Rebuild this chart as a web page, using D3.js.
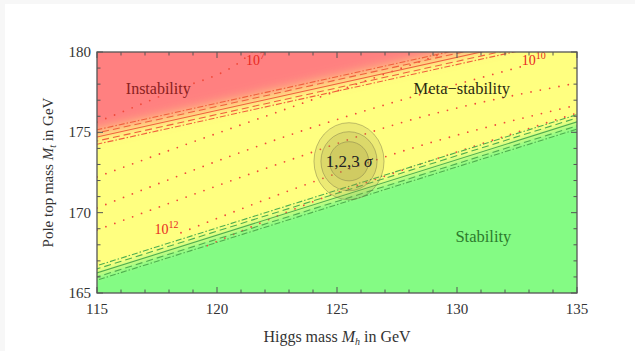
<!DOCTYPE html>
<html>
<head>
<meta charset="utf-8">
<script src="https://cdn.jsdelivr.net/npm/d3@7.9.0/dist/d3.min.js"></script>
<style>
  html, body { margin: 0; padding: 0; background: #f7f7f7; }
  svg { display: block; }
  text { font-family: "Liberation Serif", "DejaVu Serif", serif; }
</style>
</head>
<body>
<svg id="chart" width="635" height="351"></svg>
<script>
// axis ranges and ticks
const xDomain = [115, 135];
const yDomain = [165, 180];
const xTicks = [115, 120, 125, 130, 135];
const yTicks = [165, 170, 175, 180];

// boundary lines [Mh, Mt] (solid = central value)
const instabilityLine = [[115, 174.71], [131.0, 180]];
const stabilityLine = [[115, 166.25], [135, 175.65]];
// uncertainty offsets in Mt, with dash style
const bandOffsets = [
  { dy: 0.45, dash: '6,2,1.5,2' },
  { dy: 0.25, dash: '7,4' },
  { dy: 0, dash: null },
  { dy: -0.25, dash: '7,4' },
  { dy: -0.45, dash: '6,2,1.5,2' },
];

// instability scale contours (dotted), [Mh, Mt] points
const contour7 = [[115, 175.64], [118.04, 177.51], [121.17, 179.63], [121.46, 180]];
const contour8 = [[115, 172.22], [116.92, 173.28], [125.13, 177.64], [129.58, 180]];
const contour10 = [[115, 170.29], [123.04, 174.84], [132.7, 179.1]];
const contour11 = [[115, 168.92], [123.04, 173.28], [127.63, 175.58], [135, 178.07]];
const contour12 = [[118.5, 168.75], [123.88, 171.85], [127.63, 173.78], [135, 176.7]];
const contour13 = [[119.6, 167.95], [124.83, 171.15], [127.63, 172.6], [135, 176.2]];
const contours = [contour7, contour8, contour10, contour11, contour12, contour13];
const contourLabels = [
  { exp: '7', at: [121.6, 179.2] },
  { exp: '10', at: [133.2, 179.2] },
  { exp: '12', at: [117.9, 168.7] },
];

// measured point: Mh, Mt and 1,2,3 sigma half-widths
const center = [125.5, 173.2];
const sigmaX = [0.82, 1.17, 1.46];
const sigmaY = [1.22, 1.84, 2.4];

const regionLabels = [
  { text: 'Instability', at: [116.2, 177.4], color: '#8a2020', size: 16 },
  { text: 'Meta\u2212stability', at: [130.2, 177.4], color: '#2a2a10', size: 16.5 },
  { text: 'Stability', at: [131.1, 168.2], color: '#2c7a2c', size: 16.5 },
];

const width = 635, height = 351;
const margin = { top: 52, right: 58, bottom: 58, left: 97 };
const svg = d3.select('#chart');

svg.append('rect')
  .attr('x', 5).attr('y', 4)
  .attr('width', width - 5).attr('height', height - 4)
  .attr('fill', '#fff');

const xScale = d3.scaleLinear().domain(xDomain).range([margin.left, width - margin.right]);
const yScale = d3.scaleLinear().domain(yDomain).range([height - margin.bottom, margin.top]);

const defs = svg.append('defs');
defs.append('clipPath').attr('id', 'plotclip')
  .append('rect')
  .attr('x', xScale(115)).attr('y', yScale(180))
  .attr('width', xScale(135) - xScale(115))
  .attr('height', yScale(165) - yScale(180));
defs.append('filter').attr('id', 'blur')
  .attr('x', '-20%').attr('y', '-20%').attr('width', '140%').attr('height', '140%')
  .append('feGaussianBlur').attr('stdDeviation', 4);
defs.append('filter').attr('id', 'blurWide')
  .attr('x', '-20%').attr('y', '-20%').attr('width', '140%').attr('height', '140%')
  .append('feGaussianBlur').attr('stdDeviation', 7);

// line through two points, extended across the whole x range
function extend(seg, dy = 0) {
  const [[x0, y0], [x1, y1]] = seg;
  const m = (y1 - y0) / (x1 - x0);
  return [[100, y0 + m * (100 - x0) + dy], [150, y0 + m * (150 - x0) + dy]];
}

const plot = svg.append('g').attr('clip-path', 'url(#plotclip)');
const bg = plot.append('g').attr('filter', 'url(#blur)');

const line = d3.line().x(d => xScale(d[0])).y(d => yScale(d[1]));
const smooth = d3.line().x(d => xScale(d[0])).y(d => yScale(d[1])).curve(d3.curveMonotoneX);
const inst = extend(instabilityLine, 0.25);
const stab = extend(stabilityLine);

bg.append('rect')
  .attr('x', xScale(110)).attr('y', yScale(190))
  .attr('width', xScale(140) - xScale(110))
  .attr('height', yScale(160) - yScale(190))
  .attr('fill', '#ffff80');
bg.append('path')
  .attr('d', line([stab[0], stab[1], [150, 150], [100, 150]]) + 'Z')
  .attr('fill', '#84fb84');
plot.append('path')
  .attr('filter', 'url(#blurWide)')
  .attr('d', line([inst[0], inst[1], [150, 200], [100, 200]]) + 'Z')
  .attr('fill', '#ff8080');

// dotted contours
plot.append('g').selectAll('path')
  .data(contours)
  .join('path')
  .attr('d', d => smooth(d))
  .attr('fill', 'none')
  .attr('stroke', '#f04a3a')
  .attr('stroke-width', 1.8)
  .attr('stroke-linecap', 'round')
  .attr('stroke-dasharray', '0,9.5');

// uncertainty bands
[[instabilityLine, '#f0603c'], [stabilityLine, '#4fae4f']].forEach(([seg, col]) => {
  plot.append('g').selectAll('path')
    .data(bandOffsets)
    .join('path')
    .attr('d', o => line(extend(seg, o.dy)))
    .attr('fill', 'none')
    .attr('stroke', col)
    .attr('stroke-width', 1.1)
    .attr('stroke-dasharray', o => o.dash);
});

// sigma ellipses
const ell = plot.append('g');
[2, 1, 0].forEach(i => {
  ell.append('ellipse')
    .attr('cx', xScale(center[0])).attr('cy', yScale(center[1]))
    .attr('rx', xScale(xDomain[0] + sigmaX[i]) - xScale(xDomain[0]))
    .attr('ry', yScale(yDomain[0]) - yScale(yDomain[0] + sigmaY[i]))
    .attr('fill', 'rgba(160,150,70,0.2)')
    .attr('stroke', 'rgba(120,115,70,0.45)')
    .attr('stroke-width', 1);
});

const sigmaText = plot.append('text')
  .attr('x', xScale(center[0]))
  .attr('y', yScale(center[1]) + 6)
  .attr('text-anchor', 'middle')
  .attr('font-size', 17)
  .attr('fill', '#222');
sigmaText.append('tspan').text('1,2,3 ');
sigmaText.append('tspan').attr('font-style', 'italic').text('\u03c3');

// contour labels
contourLabels.forEach(l => {
  const t = plot.append('text')
    .attr('x', xScale(l.at[0])).attr('y', yScale(l.at[1]))
    .attr('text-anchor', 'middle')
    .attr('font-size', 14)
    .attr('fill', '#e8281e');
  t.append('tspan').text('10');
  t.append('tspan').attr('font-size', 10).attr('dy', -6).text(l.exp);
});

// region labels
plot.selectAll('.region')
  .data(regionLabels)
  .join('text')
  .attr('class', 'region')
  .attr('x', d => xScale(d.at[0]))
  .attr('y', d => yScale(d.at[1]))
  .attr('font-size', d => d.size)
  .attr('fill', d => d.color)
  .attr('text-anchor', (d, i) => i === 0 ? 'start' : 'middle')
  .text(d => d.text);

// frame with inward ticks on all sides
const frame = svg.append('g');
const axisColor = '#555';
const minorX = d3.range(115, 136, 1);
const minorY = d3.range(165, 181, 1);
const x0 = xScale(115), x1 = xScale(135), y0 = yScale(165), y1 = yScale(180);
minorX.forEach(v => {
  const len = xTicks.includes(v) ? 6 : 3.5;
  frame.append('line').attr('x1', xScale(v)).attr('x2', xScale(v)).attr('y1', y0).attr('y2', y0 - len).attr('stroke', axisColor);
  frame.append('line').attr('x1', xScale(v)).attr('x2', xScale(v)).attr('y1', y1).attr('y2', y1 + len).attr('stroke', axisColor);
});
minorY.forEach(v => {
  const len = yTicks.includes(v) ? 6 : 3.5;
  frame.append('line').attr('y1', yScale(v)).attr('y2', yScale(v)).attr('x1', x0).attr('x2', x0 + len).attr('stroke', axisColor);
  frame.append('line').attr('y1', yScale(v)).attr('y2', yScale(v)).attr('x1', x1).attr('x2', x1 - len).attr('stroke', axisColor);
});
frame.append('rect')
  .attr('x', x0).attr('y', y1).attr('width', x1 - x0).attr('height', y0 - y1)
  .attr('fill', 'none').attr('stroke', axisColor).attr('stroke-width', 1.3);

// tick labels
svg.append('g').selectAll('text')
  .data(xTicks)
  .join('text')
  .attr('x', d => xScale(d))
  .attr('y', y0 + 21)
  .attr('text-anchor', 'middle')
  .attr('font-size', 15)
  .attr('fill', '#333')
  .text(d => d);
svg.append('g').selectAll('text')
  .data(yTicks)
  .join('text')
  .attr('x', x0 - 6)
  .attr('y', d => yScale(d) + 5)
  .attr('text-anchor', 'end')
  .attr('font-size', 15)
  .attr('fill', '#333')
  .text(d => d);

// axis titles
const xt = svg.append('text')
  .attr('x', (x0 + x1) / 2).attr('y', 342)
  .attr('text-anchor', 'middle').attr('font-size', 16).attr('fill', '#333');
xt.append('tspan').text('Higgs mass ');
xt.append('tspan').attr('font-style', 'italic').text('M');
xt.append('tspan').attr('font-style', 'italic').attr('font-size', 10).attr('dy', 3).text('h');
xt.append('tspan').attr('dy', -3).text(' in GeV');

const yt = svg.append('text')
  .attr('transform', `translate(53, ${(y0 + y1) / 2}) rotate(-90)`)
  .attr('text-anchor', 'middle').attr('font-size', 15).attr('fill', '#333');
yt.append('tspan').text('Pole top mass ');
yt.append('tspan').attr('font-style', 'italic').text('M');
yt.append('tspan').attr('font-style', 'italic').attr('font-size', 10).attr('dy', 3).text('t');
yt.append('tspan').attr('dy', -3).text(' in GeV');
</script>
</body>
</html>
